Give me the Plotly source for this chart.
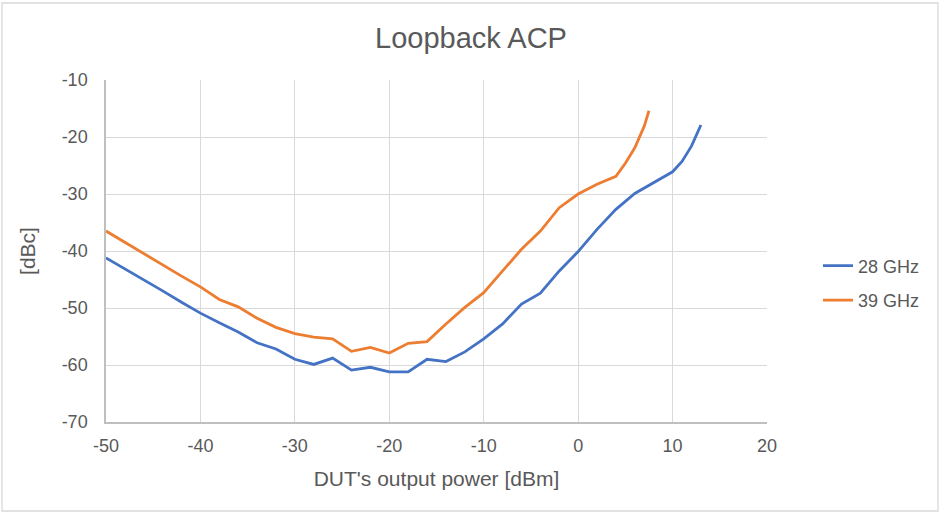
import plotly.graph_objects as go

# Measured adjacent channel power versus DUT output power
power_28 = [-50, -48, -46, -44, -42, -40, -38, -36, -34, -32, -30, -28, -26, -24, -22, -20,
            -18, -16, -14, -12, -10, -8, -6, -4, -2, 0, 2, 4, 6, 8, 10, 11, 12, 13]
acp_28 = [-41.2, -43.1, -45.0, -47.0, -49.0, -50.9, -52.6, -54.2, -56.1, -57.2, -59.0, -59.9,
          -58.8, -60.9, -60.4, -61.2, -61.2, -59.0, -59.4, -57.7, -55.4, -52.8, -49.3, -47.4,
          -43.5, -40.1, -36.2, -32.7, -29.9, -28.0, -26.1, -24.3, -21.6, -17.9]

power_39 = [-50, -48, -46, -44, -42, -40, -38, -36, -34, -32, -30, -28, -26, -24, -22, -20,
            -18, -16, -14, -12, -10, -8, -6, -4, -2, 0, 2, 4, 5, 6, 7, 7.5]
acp_39 = [-36.5, -38.5, -40.4, -42.4, -44.4, -46.3, -48.5, -49.8, -51.8, -53.4, -54.5, -55.1,
          -55.4, -57.6, -56.9, -57.9, -56.2, -55.9, -52.8, -49.9, -47.3, -43.5, -39.7, -36.5,
          -32.4, -30.0, -28.3, -26.9, -24.6, -21.9, -18.1, -15.4]

series_names = ["28 GHz", "39 GHz"]
series_colors = ["#4472C4", "#ED7D31"]

x_ticks = [-50, -40, -30, -20, -10, 0, 10, 20]
y_ticks = [-70, -60, -50, -40, -30, -20, -10]

FONT = "Liberation Sans, Arial, sans-serif"
TEXT = "#595959"
GRID = "#d9d9d9"
AXIS = "#bfbfbf"

fig = go.Figure()
for xs, ys, name, color in [(power_28, acp_28, series_names[0], series_colors[0]),
                            (power_39, acp_39, series_names[1], series_colors[1])]:
    fig.add_trace(go.Scatter(x=xs, y=ys, mode="lines", name=name, legendgroup=name,
                             line=dict(color=color, width=2.8)))

W, H = 941, 514
ml, mr, mt, mb = 106, 174, 80, 92
pw, ph = W - ml - mr, H - mt - mb

def px_x(p):
    return (p - ml) / pw

def px_y(p):
    return (H - mb - p) / ph

fig.update_layout(
    width=W, height=H,
    margin=dict(l=ml, r=mr, t=mt, b=mb),
    paper_bgcolor="white", plot_bgcolor="white",
    font=dict(family=FONT, color=TEXT, size=18),
    title=dict(text="Loopback ACP", x=px_x(471), xanchor="center", xref="paper",
               y=1 - 38 / H, yanchor="middle",
               font=dict(family=FONT, size=29, color=TEXT)),
    xaxis=dict(range=[-50, 20], tickvals=x_ticks, ticktext=[str(v) for v in x_ticks],
               showgrid=True, gridcolor=GRID, gridwidth=1.3,
               showline=True, linecolor=AXIS, linewidth=1.5, zeroline=False,
               ticks="", ticklabelstandoff=7,
               tickfont=dict(size=18, color=TEXT),
               title=dict(text="DUT's output power [dBm]", standoff=16,
                          font=dict(size=21, color=TEXT))),
    yaxis=dict(range=[-70, -10], tickvals=y_ticks, ticktext=[str(v) for v in y_ticks],
               showgrid=True, gridcolor=GRID, gridwidth=1.3,
               showline=True, linecolor=AXIS, linewidth=1.5, zeroline=False,
               ticks="", ticklabelstandoff=13,
               tickfont=dict(size=18, color=TEXT),
               title=dict(text="[dBc]", standoff=20,
                          font=dict(size=21, color=TEXT))),
    legend=dict(x=px_x(818), xanchor="left", y=px_y(283), yanchor="middle",
                font=dict(size=18, color=TEXT), bgcolor="rgba(0,0,0,0)",
                tracegroupgap=8, itemwidth=30),
    showlegend=True,
)

# light frame around the whole chart
fig.add_shape(type="rect", xref="paper", yref="paper",
              x0=px_x(2), x1=px_x(938), y0=px_y(511), y1=px_y(3),
              line=dict(color="#d9d9d9", width=1.3), fillcolor="rgba(0,0,0,0)", layer="below")

fig.write_html("out.html")
